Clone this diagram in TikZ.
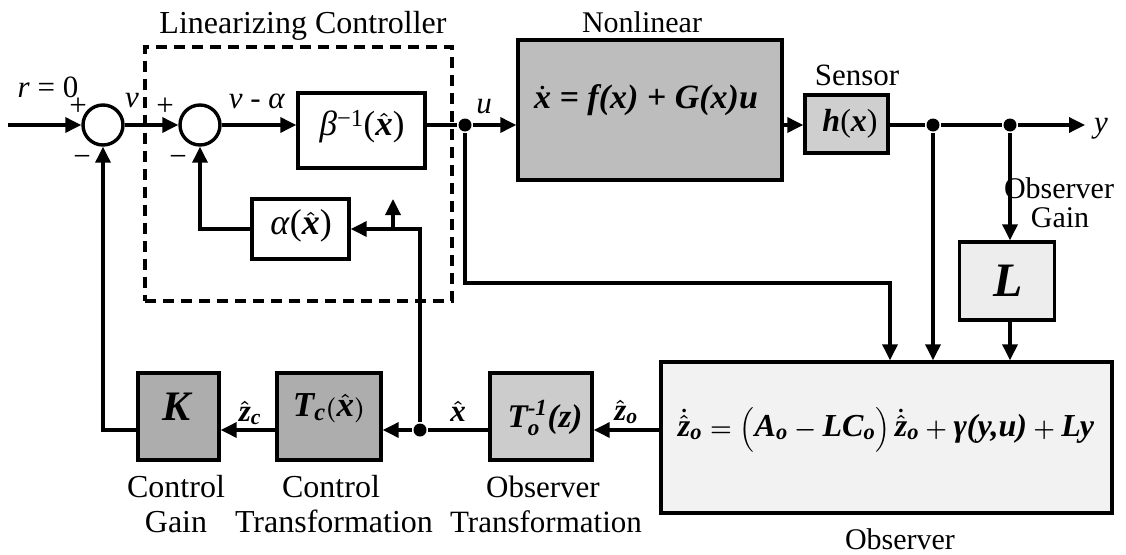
\documentclass[tikz,border=0pt]{standalone}
\usepackage{amsmath}
\usepackage{fontspec}
\setmainfont{Liberation Serif}
\usetikzlibrary{arrows.meta}

\definecolor{plantgray}{gray}{0.74}
\definecolor{gaingray}{gray}{0.68}
\definecolor{sensorgray}{gray}{0.81}
\definecolor{tinvgray}{gray}{0.80}
\definecolor{lgray}{gray}{0.93}
\definecolor{obsgray}{gray}{0.95}

% bold italic text, and the same inside math
\newcommand{\bfit}[1]{\textbf{\textit{#1}}}
\newcommand{\mv}[1]{\text{\bfseries\itshape #1}}
\newcommand{\hx}{{\boldmath$\hat{\mv{x}}$}}
\newcommand{\fs}[1]{\fontsize{#1}{#1}\selectfont}
\newcommand{\zdh}{\dot{\hat{\mv{z}}}_{\mv{o}}}
% block and signal labels
\newcommand{\obseqtext}{{\boldmath$\zdh = \Bigl(\mv{A}_{\mv{o}} - \mv{LC}_{\mv{o}}\Bigr)\,\zdh + \mv{γ}\mv{(y,u)} + \mv{Ly}$}}
\newcommand{\planteqtext}{{\boldmath$\dot{\mv{x}}$}\bfit{ = f(x) + G(x)u}}
\newcommand{\tinvtext}{{\boldmath$\mv{T}_{\mv{o}}^{\mv{-1}}\mv{(z)}$}}
\newcommand{\tctext}{{\boldmath$\mv{T}_{\mv{c}}(\hat{\mv{x}})$}}
\newcommand{\zotext}{{\boldmath$\hat{\mv{z}}_{\mv{o}}$}}
\newcommand{\zctext}{{\boldmath$\hat{\mv{z}}_{\mv{c}}$}}
\newcommand{\betatext}{\textit{β}\textsuperscript{−1}(\hx)}
\newcommand{\alphatext}{\textit{α}(\hx)}

\begin{document}
\begin{tikzpicture}[x=1pt, y=-1pt, line width=3.4pt,
  every node/.style={inner sep=0pt, font=\fs{31}},
  blk/.style={draw, line width=3.4pt, inner sep=0pt},
  sumj/.style={circle, draw, line width=3.4pt, minimum size=40pt, inner sep=0pt},
  dot/.style={circle, fill, inner sep=0pt, minimum size=13pt},
  arr/.style={-{Triangle[length=16pt,width=15pt]}},
  dashbox/.style={draw, line width=3.4pt, dash pattern=on 11pt off 7pt, inner sep=0pt}]

\useasboundingbox (0,0) rectangle (1126,554);

% ---- linearizing controller ----
\node[dashbox, minimum width=307pt, minimum height=254pt] (lin) at (298.5,174) {};
\node[anchor=base, font=\fs{32}] (lintitle) at (303,33) {Linearizing Controller};

\node[sumj] (s1) at (103,125) {};
\node[sumj] (s2) at (200,125) {};
\node[blk, minimum width=127pt, minimum height=75pt] (beta) at (361.5,130.5) {};
\node[font=\fs{35}] (betalab) at (362,127) {\betatext};
\node[blk, minimum width=97pt, minimum height=60pt] (alpha) at (300.5,229) {};
\node[font=\fs{36}] (alphalab) at (301,226) {\alphatext};

\node (p1) at (78,107) {+};
\node (m1) at (82,161) {−};
\node (p2) at (165,107) {+};
\node (m2) at (178,161) {−};
\node[anchor=base] (ref) at (48,97) {\textit{r} = 0};
\node (nu) at (132,101) {\textit{ν}};
\node (nua) at (257,101) {\textit{ν} - \textit{α}};

% ---- plant and sensor ----
\node[blk, fill=plantgray, minimum width=264pt, minimum height=140pt] (plant) at (650,110) {};
\node[anchor=base, font=\fs{30}] (planttitle) at (642,32) {Nonlinear};
\node[font=\fs{34}] (planteq) at (646,100) {\planteqtext};
\node[blk, fill=sensorgray, minimum width=83pt, minimum height=58pt] (sensor) at (846.5,124) {};
\node[anchor=base] (sensortitle) at (857,85) {Sensor};
\node[font=\fs{32}] (sensorlab) at (850,124) {\bfit{h}(\bfit{x})};

\node[dot] (ju) at (465,125) {};
\node (ulab) at (484,107) {\textit{u}};
\node[dot] (d1) at (933,125) {};
\node[dot] (d2) at (1010,125) {};
\coordinate (yout) at (1085,125);
\node[anchor=base] (ylab) at (1101,132) {\textit{y}};

% ---- observer ----
\node[anchor=base, font=\fs{30}] (og1) at (1059,198) {Observer};
\node[anchor=base, font=\fs{30}] (og2) at (1060,227) {Gain};
\node[blk, fill=lgray, minimum width=95pt, minimum height=78pt] (Lbox) at (1007,281) {};
\node[font=\fs{48}] (Llab) at (1008,281) {\bfit{L}};
\node[blk, fill=obsgray, minimum width=451pt, minimum height=151pt] (obs) at (886.5,437.5) {};
\node[font=\fs{32}] (obseq) at (886,430) {\obseqtext};
\node[anchor=base, font=\fs{30}] (obstitle) at (900,549) {Observer};
\coordinate (ucorner) at (890,283);

% ---- transformations and control gain ----
\node[blk, fill=tinvgray, minimum width=102pt, minimum height=87pt] (tinv) at (541,416.5) {};
\node[font=\fs{33}] (tinvlab) at (545,418) {\tinvtext};
\node[anchor=base, font=\fs{31}] (ot1) at (543,497) {Observer};
\node[anchor=base, font=\fs{31}] (ot2) at (546,532) {Transformation};

\node[dot] (jx) at (420,430) {};
\node (xlab) at (458,411) {\hx};
\node (zolab) at (626,412) {\zotext};

\node[blk, fill=gaingray, minimum width=104pt, minimum height=87pt] (tc) at (329,416.5) {};
\node[font=\fs{35}] (tclab) at (329,408) {\tctext};
\node[anchor=base, font=\fs{32}] (ct1) at (331,497) {Control};
\node[anchor=base, font=\fs{32}] (ct2) at (334,532) {Transformation};

\node[blk, fill=gaingray, minimum width=81pt, minimum height=87pt] (K) at (178.5,416.5) {};
\node[font=\fs{42}] (Klab) at (178,407) {\bfit{K}};
\node[anchor=base, font=\fs{32}] (cg1) at (176,497) {Control};
\node[anchor=base, font=\fs{32}] (cg2) at (176,532) {Gain};
\node (zclab) at (250,413) {\zctext};

\coordinate (in) at (8,125);
\coordinate (stub) at (393,199);

% ---- forward path ----
\draw[arr] (in) -- (s1.west);
\draw[arr] (s1.east) -- (s2.west);
\draw[arr] (s2.east) -- (s2.east -| beta.west);
\draw (beta.east |- ju) -- (ju);
\draw[arr] (ju) -- (ju -| plant.west);
\draw[arr] (plant.east |- ju) -- (sensor.west |- ju);
\draw (sensor.east |- ju) -- (d1) -- (d2);
\draw[arr] (d2) -- (yout);

% ---- observer inputs ----
\draw[arr] (ju) |- (ucorner) -- (ucorner |- obs.north);
\draw[arr] (d1) -- (d1 |- obs.north);
\draw[arr] (d2) -- (d2 |- Lbox.north);
\draw[arr] (d2 |- Lbox.south) -- (d2 |- obs.north);

% ---- estimate feedback ----
\draw[arr] (obs.west |- jx) -- (tinv.east |- jx);
\draw (tinv.west |- jx) -- (jx);
\draw[arr] (jx) -- (tc.east |- jx);
\draw[arr] (tc.west |- jx) -- (K.east |- jx);
\draw[arr] (K.west |- jx) -| (s1.south);
\draw[arr] (jx) |- (alpha.east);
\draw[arr] (stub |- alpha.east) -- (stub);
\draw[arr] (alpha.west) -| (s2.south);
\end{tikzpicture}
\end{document}
